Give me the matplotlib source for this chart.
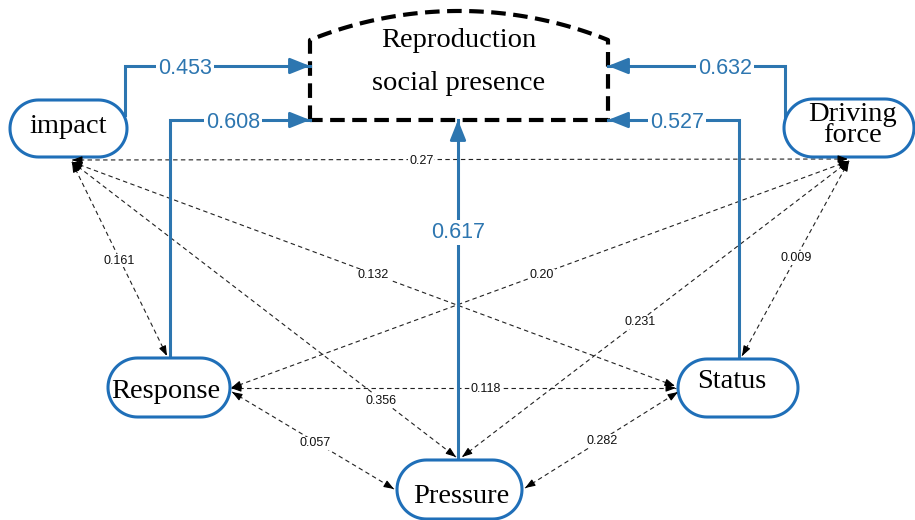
import numpy as np
import matplotlib.pyplot as plt
from matplotlib.patches import Polygon

# --- data ---
node_names = ['impact', 'Driving force', 'Response', 'Status', 'Pressure']
path_sources = ['impact', 'Response', 'Pressure', 'Driving force', 'Status']
path_coefs = ['0.453', '0.608', '0.617', '0.632', '0.527']
corr_pairs = [('impact', 'Driving force'), ('impact', 'Response'), ('impact', 'Status'),
              ('impact', 'Pressure'), ('Driving force', 'Response'), ('Driving force', 'Pressure'),
              ('Driving force', 'Status'), ('Response', 'Status'), ('Response', 'Pressure'),
              ('Pressure', 'Status')]
corr_values = ['0.27', '0.161', '0.132', '0.356', '0.20', '0.231', '0.009', '0.118', '0.057', '0.282']
target_lines = ['Reproduction', 'social presence']

# --- layout (pixel coordinates, y down) ---
node_box = {'impact': (10, 100, 127, 157), 'Driving force': (784, 99, 914, 157),
            'Response': (108, 358, 230, 417), 'Status': (678, 359, 798, 417),
            'Pressure': (397, 460, 522, 519)}
node_text = {'impact': ('impact', 68, 133, 'baseline'),
             'Driving force': ('Driving\nforce', 852, 125, 'center'),
             'Response': ('Response', 166, 398, 'baseline'),
             'Status': ('Status', 732, 388, 'baseline'),
             'Pressure': ('Pressure', 461, 503, 'baseline')}
path_route = {'impact': [(125, 115), (125, 66), (310, 66)],
              'Response': [(170, 358), (170, 120), (310, 120)],
              'Pressure': [(458, 460), (458, 120)],
              'Driving force': [(785, 125), (785, 66), (608, 66)],
              'Status': [(739, 359), (739, 120), (608, 120)]}
path_label_pos = [(185, 66), (233, 120), (458, 230), (725, 66), (677, 120)]
corr_ends = [((72, 160), (848, 159)), ((72, 162), (167, 356)), ((72, 162), (675, 386)),
             ((72, 162), (456, 457)), ((849, 161), (231, 388)), ((849, 161), (462, 457)),
             ((849, 161), (742, 356)), ((231, 388), (676, 388)), ((232, 392), (394, 489)),
             ((525, 488), (678, 392))]
corr_t = [0.45, 0.5, 0.5, 0.805, 0.497, 0.54, 0.49, 0.572, 0.515, 0.503]

blue = '#2d76b0'
node_blue = '#1f6fb8'
serif = 'Liberation Serif'
sans = 'Liberation Sans'

fig = plt.figure(figsize=(9.15, 5.2), dpi=100)
ax = fig.add_axes([0, 0, 1, 1])
ax.set_xlim(0, 915)
ax.set_ylim(520, 0)
ax.axis('off')


def head(p_from, p_to, color, lw, ms, style):
    ax.annotate('', xy=p_to, xytext=p_from,
                arrowprops=dict(arrowstyle=style, color=color, lw=lw, mutation_scale=ms,
                                shrinkA=0, shrinkB=0), zorder=4)


def stadium(x0, y0, x1, y1):
    r = (y1 - y0) / 2
    yc = (y0 + y1) / 2
    a = np.linspace(np.pi / 2, 3 * np.pi / 2, 40)
    left = np.column_stack([x0 + r + r * np.cos(a), yc - r * np.sin(a)])
    right = np.column_stack([x1 - r - r * np.cos(a), yc + r * np.sin(a)])
    return np.vstack([left, right])


# dashed target box with arched top
x0, x1, yb, ys = 310, 608, 120, 40
cx, R = (x0 + x1) / 2, 397
half = (x1 - x0) / 2
cy = ys + np.sqrt(R ** 2 - half ** 2)
phi = np.linspace(-np.arcsin(half / R), np.arcsin(half / R), 80)
arc_x = cx + R * np.sin(phi)
arc_y = cy - R * np.cos(phi)
bx = np.concatenate([[x0, x0], arc_x, [x1, x1, x0]])
by = np.concatenate([[yb, ys], arc_y, [ys, yb, yb]])
ax.plot(bx, by, color='black', lw=3, linestyle=(0, (3.5, 1.8)), zorder=2)
ax.text(cx, 47, target_lines[0], family=serif, fontsize=20.5, ha='center', va='baseline')
ax.text(cx, 90, target_lines[1], family=serif, fontsize=20.5, ha='center', va='baseline')

# correlation (double-headed, dashed) arrows
for (a, b), val, t in zip(corr_ends, corr_values, corr_t):
    a, b = np.array(a, float), np.array(b, float)
    ax.plot([a[0], b[0]], [a[1], b[1]], color='#222222', lw=0.8,
            linestyle=(0, (4, 3)), zorder=1)
    u = (b - a) / np.linalg.norm(b - a)
    st = '-|>,head_length=0.6,head_width=0.22'
    head(b - u * 9, b, 'black', 0.8, 10, st)
    head(a + u * 9, a, 'black', 0.8, 10, st)
    p = a + (b - a) * t
    ax.text(p[0], p[1], val, family=sans, fontsize=9, ha='center', va='center_baseline',
            color='#111111', zorder=5,
            bbox=dict(fc='white', ec='none', pad=0.5))

# path (solid blue) arrows
for src, coef, lp in zip(path_sources, path_coefs, path_label_pos):
    pts = np.array(path_route[src], float)
    ax.plot(pts[:, 0], pts[:, 1], color=blue, lw=2.2, zorder=2, solid_joinstyle='miter')
    u = (pts[-1] - pts[-2]) / np.linalg.norm(pts[-1] - pts[-2])
    head(pts[-1] - u * 16, pts[-1], blue, 2.0, 22, '-|>,head_length=0.55,head_width=0.22')
    ax.text(lp[0], lp[1], coef, family=sans, fontsize=15.5, color=blue, ha='center',
            va='center_baseline', zorder=5,
            bbox=dict(fc='white', ec='none', pad=1.5))

# nodes
for name in node_names:
    ax.add_patch(Polygon(stadium(*node_box[name]), closed=True,
                         fc='white', ec=node_blue, lw=2.2, zorder=3))
    txt, tx, ty, va = node_text[name]
    ax.text(tx, ty, txt, family=serif, fontsize=20.5, ha='center', va=va,
            linespacing=0.8, zorder=5)

fig.savefig('out.png', dpi=100)
